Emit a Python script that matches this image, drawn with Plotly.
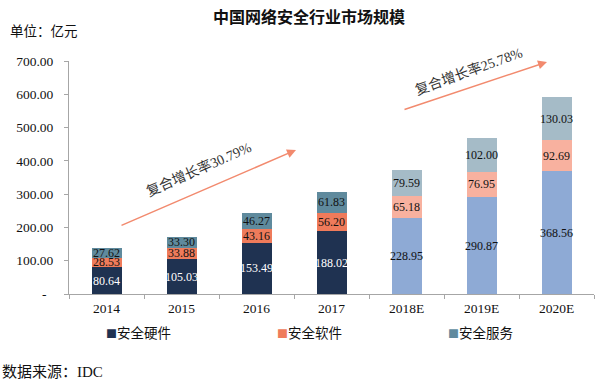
import plotly.graph_objects as go

categories = ["2014", "2015", "2016", "2017", "2018E", "2019E", "2020E"]
hardware = [80.64, 105.03, 153.49, 188.02, 228.95, 290.87, 368.56]
software = [28.53, 33.88, 43.16, 56.20, 65.18, 76.95, 92.69]
service = [27.62, 33.30, 46.27, 61.83, 79.59, 102.00, 130.03]
is_forecast = [False, False, False, False, True, True, True]
series_names = ["安全硬件", "安全软件", "安全服务"]
ytick_vals = [0, 100, 200, 300, 400, 500, 600, 700]
ytick_text = ["-\u00a0\u00a0", "100.00", "200.00", "300.00", "400.00", "500.00", "600.00", "700.00"]

hist_colors = ["#1f3251", "#ef7b5b", "#5f8a9d"]
fc_colors = ["#8eaad5", "#f8b19f", "#a5bbc7"]
hist_text = ["white", "#111111", "#111111"]
fc_text = ["#111111", "#111111", "#111111"]

SERIF = "Liberation Serif, Times New Roman, serif"
CJK = "Noto Sans CJK SC, sans-serif"
MIX = "Liberation Serif, Noto Sans CJK SC, serif"

# plot area in pixels (for converting annotation positions)
L, R, T, B = 69, 594, 61, 294
def px(x):
    return (x - L) / (R - L)
def py(y):
    return (B - y) / (B - T)

fig = go.Figure()
for i, (name, vals) in enumerate(zip(series_names, [hardware, software, service])):
    colors = [fc_colors[i] if f else hist_colors[i] for f in is_forecast]
    tcolors = [fc_text[i] if f else hist_text[i] for f in is_forecast]
    fig.add_trace(go.Bar(
        name=name, x=categories, y=vals,
        marker=dict(color=colors, line=dict(width=0)),
        text=[f"{v:.2f}" for v in vals],
        textposition="inside", insidetextanchor="middle",
        constraintext="none", textangle=0,
        textfont=dict(family=SERIF, size=12, color=tcolors),
        width=0.4, showlegend=False, hoverinfo="skip",
    ))

fig.update_layout(
    barmode="stack",
    width=600, height=382,
    margin=dict(l=L, r=600 - R, t=T, b=382 - B, autoexpand=False),
    plot_bgcolor="white", paper_bgcolor="white",
    showlegend=False,
    title=dict(text="<b>中国网络安全行业市场规模</b>", x=0.515, xanchor="center",
               y=1 - 17 / 382, yanchor="middle",
               font=dict(family=CJK, size=16, color="#111111")),
    font=dict(family=MIX, color="#111111"),
)

fig.update_yaxes(range=[0, 700], tickvals=ytick_vals, ticktext=ytick_text,
                 showline=True, linecolor="#a6a6a6", linewidth=1,
                 ticks="outside", ticklen=4, tickcolor="#a6a6a6",
                 showgrid=False, zeroline=False, automargin=False,
                 tickfont=dict(family=SERIF, size=13.5, color="#111111"),
                 ticklabelstandoff=8)
fig.update_xaxes(showline=True, linecolor="#a6a6a6", linewidth=1,
                 ticks="outside", ticklen=4, tickcolor="#a6a6a6",
                 tickson="boundaries", showgrid=False, automargin=False,
                 tickfont=dict(family=SERIF, size=13.5, color="#111111"),
                 ticklabelstandoff=2)

arrow_color = "#f28a6e"
fig.add_annotation(x=px(296), y=py(150), xref="paper", yref="paper",
                   ax=120 - 296, ay=226 - 150, showarrow=True, arrowhead=2, arrowsize=1.2,
                   arrowwidth=1.5, arrowcolor=arrow_color, text="")
fig.add_annotation(x=px(547), y=py(62), xref="paper", yref="paper",
                   ax=403 - 547, ay=110 - 62, showarrow=True, arrowhead=2, arrowsize=1.2,
                   arrowwidth=1.5, arrowcolor=arrow_color, text="")
fig.add_annotation(x=px(199), y=py(169), xref="paper", yref="paper", showarrow=False,
                   xanchor="center", yanchor="middle",
                   text="复合增长率30.79%", textangle=-24,
                   font=dict(family=MIX, size=14, color="#333333"))
fig.add_annotation(x=px(469), y=py(71), xref="paper", yref="paper", showarrow=False,
                   xanchor="center", yanchor="middle",
                   text="复合增长率25.78%", textangle=-20,
                   font=dict(family=MIX, size=14, color="#333333"))
fig.add_annotation(x=px(8), y=py(31), xref="paper", yref="paper", showarrow=False,
                   xanchor="left", yanchor="middle", text="单位：亿元",
                   font=dict(family=MIX, size=13.5, color="#111111"))
fig.add_annotation(x=px(0), y=py(372), xref="paper", yref="paper", showarrow=False,
                   xanchor="left", yanchor="middle", text="数据来源：IDC",
                   font=dict(family=MIX, size=15, color="#111111"))

# legend entries
legend_x = [104, 275, 446]
for name, col, lx in zip(series_names, hist_colors, legend_x):
    fig.add_annotation(x=px(lx), y=py(332), xref="paper", yref="paper", showarrow=False,
                       xanchor="left", yanchor="middle",
                       text=f"<span style='color:{col};font-size:11px'>■</span>{name}",
                       font=dict(family=CJK, size=13.5, color="#111111"))

fig.write_html("out.html", config={"displayModeBar": False},
               post_script="document.body.style.margin='0px';document.body.style.padding='0px';")
